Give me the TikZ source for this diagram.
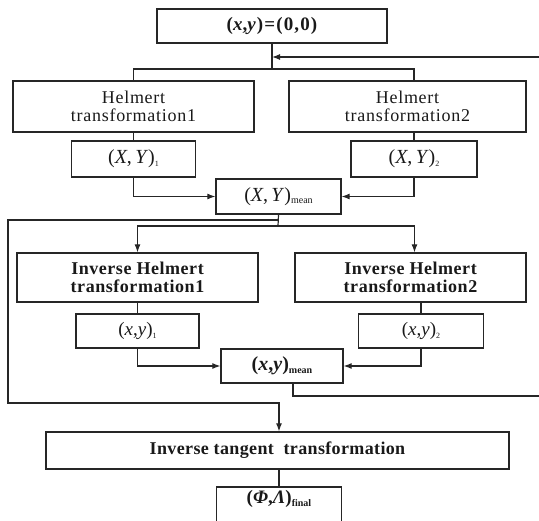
\documentclass[tikz,border=0pt]{standalone}
\usepackage{fontspec}
\setmainfont{Liberation Serif}
\usetikzlibrary{arrows.meta}
\newcommand\lowsub[2][8]{\raisebox{-2.5pt}{\fontsize{#1}{#1}\selectfont #2}}
\tikzset{
  box/.style={draw=black!85, line width=1.3pt, rectangle, inner sep=0pt, align=center, text=black!90},
  conn/.style={draw=black!85, line width=1.2pt},
  arr/.style={conn, -{Latex[length=8pt,width=6pt]}},
  helbox/.style={box, minimum height=51,
    font=\fontsize{18}{18.5}\selectfont\addfontfeature{LetterSpace=4}},
  ihelbox/.style={box, minimum height=49,
    font=\fontsize{18}{18.5}\selectfont\bfseries\addfontfeature{LetterSpace=3}},
  valbox/.style={box, minimum width=124, minimum height=36,
    font=\fontsize{20}{20}\selectfont},
}
\begin{document}
\begin{tikzpicture}[x=1pt,y=-1pt]
\useasboundingbox (0,0) rectangle (539,521);
\clip (0,0) rectangle (539,521);

% nodes
\node[box, minimum width=230, minimum height=34,
  font=\fontsize{19}{19}\selectfont\bfseries\addfontfeature{LetterSpace=6}]
  (top) at (272,26) {(\textit{x},\textit{y})=(0,0)};

\node[helbox, minimum width=241] (h1) at (133.5,106.5) {Helmert\\transformation1};
\node[helbox, minimum width=237] (h2) at (407.5,106.5) {Helmert\\transformation2};

\node[valbox] (XY1) at (133.5,159) {(\textit{X},\,\textit{Y})\lowsub{1}};
\node[valbox, minimum width=126] (XY2) at (414,159) {(\textit{X},\,\textit{Y})\lowsub{2}};

\node[valbox, minimum width=125, minimum height=35] (mean) at (278.5,196.5)
  {(\textit{X},\,\textit{Y})\lowsub[10]{mean}};

\node[ihelbox, minimum width=241] (IH1) at (137.5,277.5) {Inverse Helmert\\transformation1};
\node[ihelbox, minimum width=231] (IH2) at (410.5,277.5) {Inverse Helmert\\transformation2};

\node[valbox, minimum width=123, minimum height=34, font=\fontsize{19}{19}\selectfont] (xy1) at (137.5,331) {(\textit{x},\textit{y})\lowsub{1}};
\node[valbox, minimum width=125, minimum height=34, font=\fontsize{19}{19}\selectfont] (xy2) at (421,331) {(\textit{x},\textit{y})\lowsub{2}};

\node[valbox, minimum width=122, minimum height=34,
  font=\fontsize{20}{20}\selectfont\bfseries]
  (xym) at (282,366) {(\textit{x},\textit{y})\lowsub[10]{mean}};

\node[box, minimum width=463, minimum height=37,
  font=\fontsize{18}{18}\selectfont\bfseries\addfontfeature{LetterSpace=2}]
  (itan) at (277.5,450.5) {Inverse tangent\ \ transformation};

\node[inner sep=0pt, minimum width=124, minimum height=24, anchor=north,
  font=\fontsize{19}{19}\selectfont\bfseries, text=black!90]
  (phi) at (279,487) {(\textit{Φ},\textit{Λ})\lowsub[10]{final}};
\draw[conn, line width=1.3pt] ([yshift=-40pt]phi.south west) -- (phi.north west) -- (phi.north east) -- ([yshift=-40pt]phi.south east);

% coordinates
\coordinate (in) at (539,57);
\coordinate (s1) at (272,69);
\coordinate (fb) at (278,220);
\coordinate (sp) at (278,226);
\coordinate (c1) at (8,220);
\coordinate (c2) at (8,403);
\coordinate (out) at (539,396);

% connectors
\draw[arr] (in) -- (top.south |- in);
\draw[conn] (top.south) -- (s1);
\draw[conn] (h1.north) -- (h1.north |- s1) -- (XY2.north |- s1) -- (XY2.north |- h2.north);
\draw[conn] (h1.south) -- (XY1.north);
\draw[conn] (XY2.north |- h2.south) -- (XY2.north);
\draw[arr] (XY1.south) |- (mean.west);
\draw[arr] (XY2.south) |- (mean.east);

\draw[conn] (mean.south) -- (sp);
\draw[arr] (sp) -| (IH1.north);
\draw[arr] (sp) -| ([xshift=4]IH2.north);
\draw[conn] (IH1.south) -- (xy1.north);
\draw[conn] (xy2.north |- IH2.south) -- (xy2.north);
\draw[arr] (xy1.south) |- (xym.west);
\draw[arr] (xy2.south) |- (xym.east);
\draw[conn] ([xshift=11]xym.south) |- (out);

\draw[arr] (fb) -- (c1) -- (c2) -| (itan.north -| phi.north);
\draw[conn] (itan.south -| phi.north) -- (phi.north);
\end{tikzpicture}
\end{document}
